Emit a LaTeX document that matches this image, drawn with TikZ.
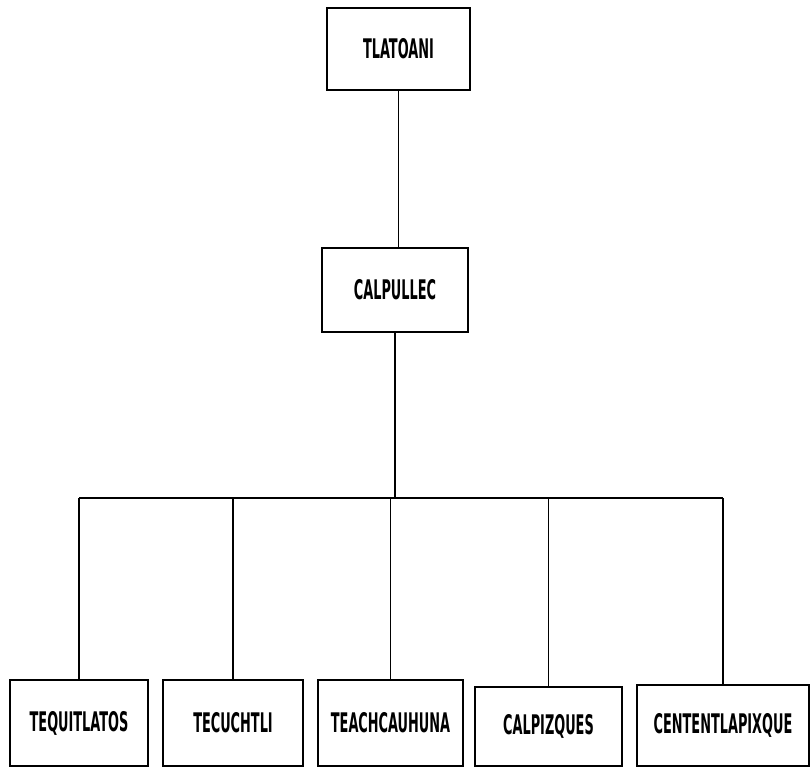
\documentclass[tikz,border=0pt]{standalone}
\usepackage{fontspec}
\newfontfamily\boxfont[FakeStretch=0.53]{DejaVu Sans Condensed Bold}
\begin{document}
\begin{tikzpicture}[x=1pt,y=-1pt,
  unit/.style={draw=black, line width=2.8pt, rectangle, inner sep=0pt,
    font=\boxfont\fontsize{27}{27}\selectfont, text=black},
  link/.style={draw=black, line width=1.5pt}]
\useasboundingbox (0,0) rectangle (810,769);
\node[unit, minimum width=143pt, minimum height=82pt] (tl) at (398.5,49) {TLATOANI};
\node[unit, minimum width=146pt, minimum height=84pt] (ca) at (395,290) {CALPULLEC};
\node[unit, minimum width=138pt, minimum height=86pt] (t1) at (79,723) {TEQUITLATOS};
\node[unit, minimum width=140pt, minimum height=86pt] (t2) at (233,723) {TECUCHTLI};
\node[unit, minimum width=145pt, minimum height=86pt] (t3) at (390.5,723) {TEACHCAUHUNA};
\node[unit, minimum width=147pt, minimum height=79pt] (t4) at (548.5,726.5) {CALPIZQUES};
\node[unit, minimum width=172pt, minimum height=81pt] (t5) at (723,725.5) {CENTENTLAPIXQUE};
\coordinate (bus) at (395,498);
\draw[link] (tl.south) -- (tl.south |- ca.north);
\draw[link] (ca.south) -- (bus);
\draw[link] (t1.north |- bus) -- (t5.north |- bus);
\foreach \n in {t1,t2,t3,t4,t5} \draw[link] (\n.north |- bus) -- (\n.north);
\end{tikzpicture}
\end{document}
